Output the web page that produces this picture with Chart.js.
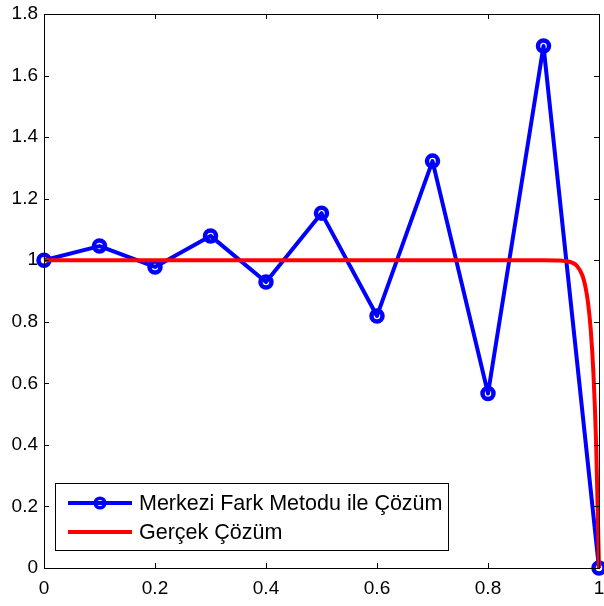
<!DOCTYPE html>
<html>
<head>
<meta charset="utf-8">
<script src="https://cdn.jsdelivr.net/npm/chart.js@4.4.1/dist/chart.umd.min.js"></script>
<style>
  html, body { margin: 0; padding: 0; background: #fff; }
  #wrap { width: 604px; height: 606px; position: relative; }
</style>
</head>
<body>
<div id="wrap"><canvas id="chart" width="604" height="606"></canvas></div>
<script>
// numeric solution (central difference), nodes at h = 0.1
const xNodes = [0, 0.1, 0.2, 0.3, 0.4, 0.5, 0.6, 0.7, 0.8, 0.9, 1.0];
const yNumeric = [1.0, 1.046, 0.978, 1.079, 0.929, 1.153, 0.819, 1.322, 0.567, 1.696, 0.0];

// exact solution (flat, then a steep boundary layer near x = 1)
const xExact = [0, 0.5, 0.9, 0.93, 0.94, 0.95, 0.96, 0.97, 0.975, 0.98, 0.985, 0.99, 0.995, 1.0];
const yExact = [1.0, 1.0, 1.0, 0.999, 0.997, 0.993, 0.982, 0.951, 0.918, 0.865, 0.777, 0.632, 0.393, 0.0];

const legendLabels = ["Merkezi Fark Metodu ile Çözüm", "Gerçek Çözüm"];
const xTicks = [0, 0.2, 0.4, 0.6, 0.8, 1];
const yTicks = [0, 0.2, 0.4, 0.6, 0.8, 1, 1.2, 1.4, 1.6, 1.8];

const FONT = "Liberation Sans, Arial, Helvetica, sans-serif";

// box + inward ticks on all four sides, MATLAB style
const axesBoxPlugin = {
    id: "axesBox",
    afterDatasetsDraw(chart) {
        const { ctx, chartArea: a, scales } = chart;
        ctx.save();
        ctx.strokeStyle = "#000";
        ctx.lineWidth = 1;
        ctx.beginPath();
        xTicks.forEach(v => {
            const px = Math.round(scales.x.getPixelForValue(v)) + 0.5;
            ctx.moveTo(px, a.bottom); ctx.lineTo(px, a.bottom - 5);
            ctx.moveTo(px, a.top); ctx.lineTo(px, a.top + 5);
        });
        yTicks.forEach(v => {
            const py = Math.round(scales.y.getPixelForValue(v)) + 0.5;
            ctx.moveTo(a.left, py); ctx.lineTo(a.left + 5, py);
            ctx.moveTo(a.right, py); ctx.lineTo(a.right - 5, py);
        });
        ctx.stroke();
        ctx.strokeRect(Math.round(a.left) + 0.5, Math.round(a.top) + 0.5,
            Math.round(a.right - a.left), Math.round(a.bottom - a.top));
        ctx.restore();
    },
    afterDraw(chart) {
        // legend box in lower left of the axes
        const { ctx } = chart;
        const bx = 55, by = 483, bw = 393, bh = 67;
        ctx.save();
        ctx.fillStyle = "#fff";
        ctx.fillRect(bx, by, bw, bh);
        ctx.strokeStyle = "#000";
        ctx.lineWidth = 1;
        ctx.strokeRect(bx + 0.5, by + 0.5, bw, bh);
        ctx.font = "21.5px " + FONT;
        ctx.textBaseline = "middle";
        ctx.fillStyle = "#000";
        const rows = [503, 532];
        const colors = ["#0000ff", "#ff0000"];
        rows.forEach((ry, i) => {
            ctx.strokeStyle = colors[i];
            ctx.lineWidth = 4;
            ctx.beginPath();
            ctx.moveTo(68, ry); ctx.lineTo(132, ry);
            ctx.stroke();
            if (i === 0) {
                ctx.lineWidth = 3.5;
                ctx.beginPath();
                ctx.arc(100, ry, 4.8, 0, Math.PI * 2);
                ctx.stroke();
            }
            ctx.fillText(legendLabels[i], 139, ry + 1);
        });
        ctx.restore();
    }
};

const numericData = xNodes.map((x, i) => ({ x: x, y: yNumeric[i] }));
const exactData = xExact.map((x, i) => ({ x: x, y: yExact[i] }));

const config = {
    type: "scatter",
    data: {
        datasets: [
            {
                label: legendLabels[1],
                data: exactData,
                showLine: true,
                borderColor: "#ff0000",
                borderWidth: 4,
                borderJoinStyle: "round",
                pointRadius: 0,
                cubicInterpolationMode: "monotone",
                order: 0
            },
            {
                label: legendLabels[0],
                data: numericData,
                showLine: true,
                borderColor: "#0000ff",
                backgroundColor: "rgba(0,0,0,0)",
                borderWidth: 4,
                borderJoinStyle: "round",
                pointRadius: 5.5,
                pointBorderWidth: 4.5,
                pointBorderColor: "#0000ff",
                pointBackgroundColor: "rgba(0,0,0,0)",
                order: 1
            }
        ]
    },
    options: {
        responsive: false,
        animation: false,
        clip: false,
        layout: { autoPadding: false, padding: { top: 14, right: 5, left: 0, bottom: 0 } },
        plugins: { legend: { display: false }, tooltip: { enabled: false } },
        scales: {
            x: {
                type: "linear",
                min: 0, max: 1,
                afterBuildTicks: s => { s.ticks = xTicks.map(v => ({ value: v })); },
                afterFit: s => { s.height = 38; s.paddingLeft = 0; s.paddingRight = 0; },
                grid: { display: false, drawTicks: false },
                border: { display: false },
                ticks: {
                    color: "#000",
                    padding: 9,
                    font: { family: FONT, size: 19 },
                    maxRotation: 0,
                    callback: v => String(v)
                }
            },
            y: {
                type: "linear",
                min: 0, max: 1.8,
                afterBuildTicks: s => { s.ticks = yTicks.map(v => ({ value: v })); },
                afterFit: s => { s.width = 44; s.paddingTop = 0; s.paddingBottom = 0; },
                grid: { display: false, drawTicks: false },
                border: { display: false },
                ticks: {
                    color: "#000",
                    padding: 6,
                    font: { family: FONT, size: 19 },
                    callback: v => String(v)
                }
            }
        }
    },
    plugins: [axesBoxPlugin]
};

new Chart(document.getElementById("chart"), config);
</script>
</body>
</html>
